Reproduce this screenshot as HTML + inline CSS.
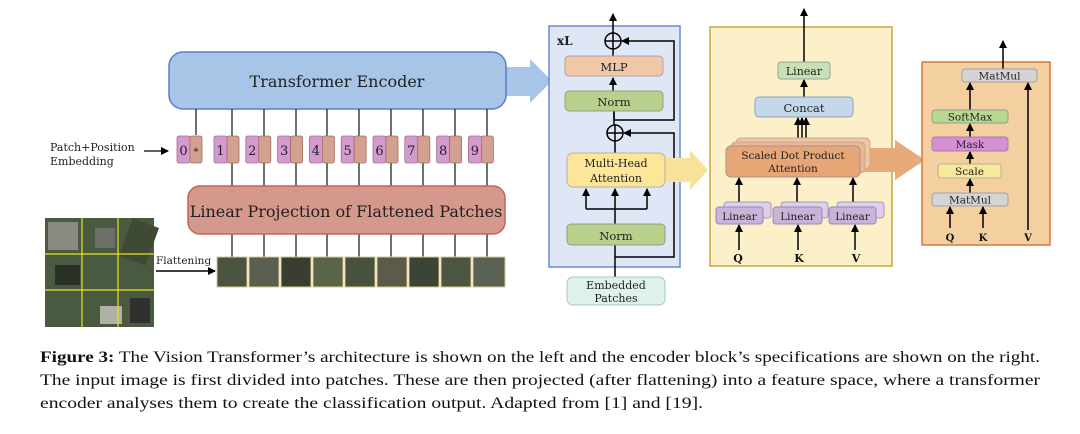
<!DOCTYPE html>
<html><head><meta charset="utf-8"><style>
body{margin:0;background:#fff;}
svg{display:block;}
text{font-family:"DejaVu Serif","Liberation Serif",serif;}
.cap{font-family:"Liberation Serif",serif;font-size:15.5px;fill:#111;}
</style></head><body>
<svg width="1080" height="434" viewBox="0 0 1080 434" xmlns="http://www.w3.org/2000/svg">
<defs>
<marker id="ah" markerWidth="8" markerHeight="8" refX="7" refY="4" orient="auto" markerUnits="userSpaceOnUse"><path d="M0,0 L8,4 L0,8 z" fill="#000"/></marker>
</defs>
<rect width="1080" height="434" fill="#fff"/>

<!-- Left: Transformer encoder -->
<polygon points="505,67 530,67 530,59 552,81 530,103 530,96 505,96" fill="#a8c4e6"/>
<rect x="169" y="52" width="337" height="57" rx="14" fill="#a8c4e6" stroke="#5a7fc0" stroke-width="1.5"/>
<text x="337" y="87" font-size="16" text-anchor="middle" fill="#222">Transformer Encoder</text>

<g stroke="#222" stroke-width="1.3">
<line x1="196" y1="109" x2="196" y2="135"/>
<line x1="232" y1="109" x2="232" y2="186"/><line x1="264" y1="109" x2="264" y2="186"/><line x1="296" y1="109" x2="296" y2="186"/><line x1="327" y1="109" x2="327" y2="186"/><line x1="359" y1="109" x2="359" y2="186"/><line x1="391" y1="109" x2="391" y2="186"/><line x1="423" y1="109" x2="423" y2="186"/><line x1="455" y1="109" x2="455" y2="186"/><line x1="487" y1="109" x2="487" y2="186"/>
<line x1="232" y1="234" x2="232" y2="257"/><line x1="264" y1="234" x2="264" y2="257"/><line x1="296" y1="234" x2="296" y2="257"/><line x1="327" y1="234" x2="327" y2="257"/><line x1="359" y1="234" x2="359" y2="257"/><line x1="391" y1="234" x2="391" y2="257"/><line x1="423" y1="234" x2="423" y2="257"/><line x1="455" y1="234" x2="455" y2="257"/><line x1="487" y1="234" x2="487" y2="257"/>
</g>

<g stroke="#9a7090" stroke-width="0.8" font-size="13">
<rect x="177" y="136" width="13" height="27" rx="2" fill="#d49ad0"/><rect x="190" y="136" width="12" height="27" rx="2" fill="#d4a090" stroke="#a07060"/>
<text x="183.5" y="155" text-anchor="middle" stroke="none" fill="#222">0</text><text x="196" y="155" text-anchor="middle" stroke="none" fill="#222" font-size="10">*</text>
</g>
<g font-size="13" stroke-width="0.8">
<g transform="translate(0,0)"><rect x="214" y="136" width="13" height="27" rx="2" fill="#d49ad0" stroke="#9a7090"/><rect x="227" y="136" width="12" height="27" rx="2" fill="#d4a090" stroke="#a07060"/><text x="220.5" y="155" text-anchor="middle" fill="#222">1</text></g>
<g transform="translate(31.8,0)"><rect x="214" y="136" width="13" height="27" rx="2" fill="#d49ad0" stroke="#9a7090"/><rect x="227" y="136" width="12" height="27" rx="2" fill="#d4a090" stroke="#a07060"/><text x="220.5" y="155" text-anchor="middle" fill="#222">2</text></g>
<g transform="translate(63.6,0)"><rect x="214" y="136" width="13" height="27" rx="2" fill="#d49ad0" stroke="#9a7090"/><rect x="227" y="136" width="12" height="27" rx="2" fill="#d4a090" stroke="#a07060"/><text x="220.5" y="155" text-anchor="middle" fill="#222">3</text></g>
<g transform="translate(95.4,0)"><rect x="214" y="136" width="13" height="27" rx="2" fill="#d49ad0" stroke="#9a7090"/><rect x="227" y="136" width="12" height="27" rx="2" fill="#d4a090" stroke="#a07060"/><text x="220.5" y="155" text-anchor="middle" fill="#222">4</text></g>
<g transform="translate(127.2,0)"><rect x="214" y="136" width="13" height="27" rx="2" fill="#d49ad0" stroke="#9a7090"/><rect x="227" y="136" width="12" height="27" rx="2" fill="#d4a090" stroke="#a07060"/><text x="220.5" y="155" text-anchor="middle" fill="#222">5</text></g>
<g transform="translate(159,0)"><rect x="214" y="136" width="13" height="27" rx="2" fill="#d49ad0" stroke="#9a7090"/><rect x="227" y="136" width="12" height="27" rx="2" fill="#d4a090" stroke="#a07060"/><text x="220.5" y="155" text-anchor="middle" fill="#222">6</text></g>
<g transform="translate(190.8,0)"><rect x="214" y="136" width="13" height="27" rx="2" fill="#d49ad0" stroke="#9a7090"/><rect x="227" y="136" width="12" height="27" rx="2" fill="#d4a090" stroke="#a07060"/><text x="220.5" y="155" text-anchor="middle" fill="#222">7</text></g>
<g transform="translate(222.6,0)"><rect x="214" y="136" width="13" height="27" rx="2" fill="#d49ad0" stroke="#9a7090"/><rect x="227" y="136" width="12" height="27" rx="2" fill="#d4a090" stroke="#a07060"/><text x="220.5" y="155" text-anchor="middle" fill="#222">8</text></g>
<g transform="translate(254.4,0)"><rect x="214" y="136" width="13" height="27" rx="2" fill="#d49ad0" stroke="#9a7090"/><rect x="227" y="136" width="12" height="27" rx="2" fill="#d4a090" stroke="#a07060"/><text x="220.5" y="155" text-anchor="middle" fill="#222">9</text></g>
</g>

<text x="50" y="151" font-size="11" fill="#222">Patch+Position</text>
<text x="50" y="165" font-size="11" fill="#222">Embedding</text>
<line x1="144" y1="151" x2="168" y2="151" stroke="#000" stroke-width="1.3" marker-end="url(#ah)"/>

<rect x="188" y="186" width="317" height="48" rx="12" fill="#d4988c" stroke="#c0645a" stroke-width="1.5"/>
<text x="346" y="217" font-size="16" text-anchor="middle" fill="#222">Linear Projection of Flattened Patches</text>

<!-- Image -->
<rect x="45" y="218" width="109" height="109" fill="#4a5a40"/>
<rect x="48" y="222" width="30" height="28" fill="#8a8a80"/>
<rect x="125" y="222" width="28" height="40" fill="#3e4a32" transform="rotate(20 139 242)"/>
<rect x="95" y="228" width="20" height="20" fill="#6a7068"/>
<rect x="100" y="306" width="22" height="18" fill="#b0b0a8"/>
<rect x="130" y="298" width="20" height="25" fill="#303030"/>
<rect x="55" y="265" width="25" height="20" fill="#2a3228"/>
<g stroke="#e8e020" stroke-width="1.2">
<line x1="82" y1="218" x2="82" y2="327"/><line x1="118" y1="218" x2="118" y2="327"/>
<line x1="45" y1="254" x2="154" y2="254"/><line x1="45" y1="290" x2="154" y2="290"/>
</g>
<text x="156" y="264" font-size="10.5" fill="#222">Flattening</text>
<line x1="156" y1="271" x2="215" y2="271" stroke="#000" stroke-width="1.5" marker-end="url(#ah)"/>

<!-- patches -->
<g stroke="#d8c890" stroke-width="1">
<rect x="217" y="257" width="30" height="30" fill="#4a5440"/>
<rect x="249" y="257" width="30" height="30" fill="#5a6050"/>
<rect x="281" y="257" width="30" height="30" fill="#3a3e30"/>
<rect x="313" y="257" width="30" height="30" fill="#5a6448"/>
<rect x="345" y="257" width="30" height="30" fill="#46523c"/>
<rect x="377" y="257" width="30" height="30" fill="#5c5a48"/>
<rect x="409" y="257" width="30" height="30" fill="#3c4436"/>
<rect x="441" y="257" width="30" height="30" fill="#4a5640"/>
<rect x="473" y="257" width="32" height="30" fill="#5a6254"/>
</g>

<!-- Encoder block (blue) -->
<rect x="549" y="26" width="131" height="241" fill="#dfe7f6" stroke="#6a8ad0" stroke-width="1.5"/>
<text x="557" y="45" font-size="12" font-weight="bold" fill="#222">xL</text>
<g stroke="#000" stroke-width="1.5" fill="none">
<line x1="613" y1="33" x2="613" y2="14" marker-end="url(#ah)"/>
<circle cx="613" cy="41" r="8"/><line x1="605" y1="41" x2="621" y2="41"/><line x1="613" y1="33" x2="613" y2="49"/>
<line x1="613" y1="49" x2="613" y2="56"/>
<line x1="613" y1="91" x2="613" y2="78" marker-end="url(#ah)"/>
<polyline points="614,111 614,120 674,120 674,41 622,41" marker-end="url(#ah)"/>
<circle cx="615" cy="133" r="8"/><line x1="607" y1="133" x2="623" y2="133"/><line x1="615" y1="125" x2="615" y2="141"/>
<line x1="614" y1="111" x2="614" y2="125"/>
<line x1="615" y1="141" x2="615" y2="153"/>
<polyline points="615,257 674,257 674,133 624,133" marker-end="url(#ah)"/>
<line x1="615" y1="277" x2="615" y2="245"/>
<line x1="615" y1="224" x2="615" y2="189" marker-end="url(#ah)"/>
<polyline points="586,209 647,209"/>
<line x1="586" y1="209" x2="586" y2="189" marker-end="url(#ah)"/>
<line x1="647" y1="209" x2="647" y2="189" marker-end="url(#ah)"/>
</g>
<rect x="565" y="56" width="98" height="20" rx="4" fill="#f0c8a8" stroke="#b0a0a8"/>
<text x="614" y="71" font-size="11.5" text-anchor="middle" fill="#222">MLP</text>
<rect x="565" y="91" width="98" height="20" rx="4" fill="#b8d08c" stroke="#90a080"/>
<text x="614" y="106" font-size="11.5" text-anchor="middle" fill="#222">Norm</text>
<polygon points="664,158 690,158 690,150 708,170 690,190 690,182 664,182" fill="#f8e29a"/>
<rect x="567" y="153" width="98" height="34" rx="6" fill="#fbe69a" stroke="#b8b0a0"/>
<text x="616" y="167" font-size="11" text-anchor="middle" fill="#222">Multi-Head</text>
<text x="616" y="182" font-size="11" text-anchor="middle" fill="#222">Attention</text>
<rect x="567" y="224" width="98" height="21" rx="4" fill="#b8d08c" stroke="#90a080"/>
<text x="616" y="240" font-size="11.5" text-anchor="middle" fill="#222">Norm</text>
<rect x="567" y="277" width="98" height="28" rx="6" fill="#dff2ea" stroke="#a8c8c0"/>
<text x="616" y="289" font-size="11" text-anchor="middle" fill="#222">Embedded</text>
<text x="616" y="302" font-size="11" text-anchor="middle" fill="#222">Patches</text>

<!-- Multi-head (yellow) -->
<rect x="710" y="27" width="182" height="239" fill="#fcf0c8" stroke="#c8a838" stroke-width="1.5"/>
<polygon points="862,148 895,148 895,140 925,160 895,180 895,172 862,172" fill="#e8aa78"/>
<g stroke="#000" stroke-width="1.5">
<line x1="804" y1="62" x2="804" y2="9" marker-end="url(#ah)"/>
<line x1="804" y1="97" x2="804" y2="80" marker-end="url(#ah)"/>
<line x1="798" y1="140" x2="798" y2="118" marker-end="url(#ah)"/>
<line x1="802" y1="140" x2="802" y2="118" marker-end="url(#ah)"/>
<line x1="806" y1="140" x2="806" y2="118" marker-end="url(#ah)"/>
<line x1="739" y1="208" x2="739" y2="178" marker-end="url(#ah)"/>
<line x1="797" y1="208" x2="797" y2="178" marker-end="url(#ah)"/>
<line x1="853" y1="208" x2="853" y2="178" marker-end="url(#ah)"/>
<line x1="739" y1="250" x2="739" y2="225" marker-end="url(#ah)"/>
<line x1="798" y1="250" x2="798" y2="225" marker-end="url(#ah)"/>
<line x1="855" y1="250" x2="855" y2="225" marker-end="url(#ah)"/>
</g>
<rect x="778" y="62" width="52" height="17" rx="3" fill="#c8e0b8" stroke="#90a890"/>
<text x="804" y="75" font-size="11" text-anchor="middle" fill="#222">Linear</text>
<rect x="755" y="97" width="98" height="20" rx="4" fill="#c4d8ea" stroke="#8aa0c0"/>
<text x="804" y="112" font-size="11.5" text-anchor="middle" fill="#222">Concat</text>
<rect x="736" y="138" width="134" height="31" rx="5" fill="#f0c8a0" stroke="#c8a898"/>
<rect x="731" y="142" width="134" height="31" rx="5" fill="#eab890" stroke="#c8a898"/>
<rect x="726" y="146" width="134" height="31" rx="5" fill="#e6a676" stroke="#a89098"/>
<text x="793" y="159" font-size="10.5" text-anchor="middle" fill="#222">Scaled Dot Product</text>
<text x="793" y="172" font-size="10.5" text-anchor="middle" fill="#222">Attention</text>
<g font-size="10.5" fill="#222">
<rect x="724" y="202" width="47" height="16" rx="3" fill="#ddd0e8" stroke="#a898b8"/><rect x="716" y="207" width="47" height="17" rx="3" fill="#c8b4d8" stroke="#9888b0"/>
<text x="739.5" y="220" text-anchor="middle">Linear</text>
<rect x="781" y="202" width="47" height="16" rx="3" fill="#ddd0e8" stroke="#a898b8"/><rect x="773" y="207" width="49" height="17" rx="3" fill="#c8b4d8" stroke="#9888b0"/>
<text x="797.5" y="220" text-anchor="middle">Linear</text>
<rect x="837" y="202" width="47" height="16" rx="3" fill="#ddd0e8" stroke="#a898b8"/><rect x="829" y="207" width="47" height="17" rx="3" fill="#c8b4d8" stroke="#9888b0"/>
<text x="852.5" y="220" text-anchor="middle">Linear</text>
</g>
<g font-size="11" font-weight="bold" fill="#111" text-anchor="middle">
<text x="738" y="262">Q</text><text x="799" y="262">K</text><text x="856" y="262">V</text>
</g>

<!-- SDPA (orange) -->
<rect x="922" y="62" width="128" height="183" fill="#f4cfa0" stroke="#d87838" stroke-width="1.5"/>
<g stroke="#000" stroke-width="1.5">
<line x1="1003" y1="69" x2="1003" y2="41" marker-end="url(#ah)"/>
<line x1="970" y1="110" x2="970" y2="83" marker-end="url(#ah)"/>
<line x1="970" y1="137" x2="970" y2="124" marker-end="url(#ah)"/>
<line x1="970" y1="164" x2="970" y2="152" marker-end="url(#ah)"/>
<line x1="970" y1="193" x2="970" y2="179" marker-end="url(#ah)"/>
<line x1="950" y1="228" x2="950" y2="207" marker-end="url(#ah)"/>
<line x1="983" y1="228" x2="983" y2="207" marker-end="url(#ah)"/>
<line x1="1028" y1="230" x2="1028" y2="83" marker-end="url(#ah)"/>
</g>
<g font-size="10.5" fill="#222" text-anchor="middle">
<rect x="962" y="69" width="75" height="13" rx="3" fill="#d4d4d4" stroke="#a0a0a8"/><text x="999.5" y="79.5">MatMul</text>
<rect x="932" y="110" width="76" height="13" rx="3" fill="#b8d890" stroke="#90a090"/><text x="970" y="120.5">SoftMax</text>
<rect x="932" y="137" width="76" height="14" rx="3" fill="#d890d4" stroke="#a080a8"/><text x="970" y="148">Mask</text>
<rect x="938" y="164" width="63" height="14" rx="3" fill="#f8e89a" stroke="#b8b0a0"/><text x="969.5" y="175">Scale</text>
<rect x="932" y="193" width="76" height="13" rx="3" fill="#d4d4d4" stroke="#a0a0a8"/><text x="970" y="203.5">MatMul</text>
</g>
<g font-size="10" font-weight="bold" fill="#111" text-anchor="middle">
<text x="950" y="241">Q</text><text x="983" y="241">K</text><text x="1028" y="241">V</text>
</g>

<!-- Caption -->
<text class="cap" x="40" y="362" textLength="1000" lengthAdjust="spacingAndGlyphs"><tspan font-weight="bold">Figure 3:</tspan> The Vision Transformer’s architecture is shown on the left and the encoder block’s specifications are shown on the right.</text>
<text class="cap" x="40" y="385" textLength="1000" lengthAdjust="spacingAndGlyphs">The input image is first divided into patches. These are then projected (after flattening) into a feature space, where a transformer</text>
<text class="cap" x="40" y="408" textLength="663" lengthAdjust="spacingAndGlyphs">encoder analyses them to create the classification output. Adapted from [1] and [19].</text>
</svg>
</body></html>
